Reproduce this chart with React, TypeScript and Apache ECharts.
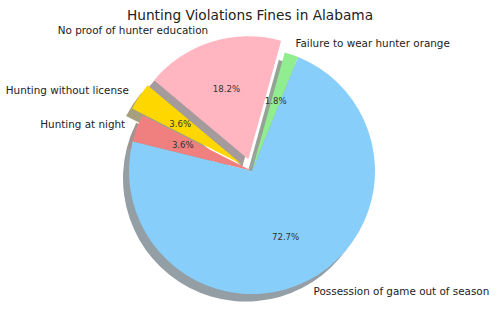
import React, { useEffect, useRef } from "react";
import * as echarts from "echarts";

const TITLE = "Hunting Violations Fines in Alabama";
const categories = [
  "Hunting without license",
  "Hunting at night",
  "Possession of game out of season",
  "Failure to wear hunter orange",
  "No proof of hunter education",
];
const counts = [2, 2, 40, 1, 10];
const exploded = [true, false, false, false, true];
const colors = ["#FFD700", "#F08080", "#87CEFA", "#90EE90", "#FFB6C1"];

const FONT = "DejaVu Sans";
const CX = 252;
const CY = 171;
const R = 123;

function shadowColor(hex: string): string {
  const n = parseInt(hex.slice(1), 16);
  const r = Math.round(((n >> 16) & 255) * 0.3);
  const g = Math.round(((n >> 8) & 255) * 0.3);
  const b = Math.round((n & 255) * 0.3);
  return `rgba(${r},${g},${b},0.5)`;
}

export default function App() {
  const ref = useRef<HTMLDivElement>(null);
  useEffect(() => {
    if (!ref.current) return;
    document.body.style.margin = "0";
    const chart = echarts.init(ref.current, undefined, { renderer: "svg" });
    const total = counts.reduce((a, b) => a + b, 0);
    const common = {
      type: "pie",
      startAngle: 140,
      clockwise: false,
      selectedMode: "multiple",
      selectedOffset: R * 0.1,
      avoidLabelOverlap: false,
      minAngle: 0,
      emphasis: { disabled: true },
      select: { disabled: false },
    };
    chart.setOption({
      animation: false,
      title: {
        text: TITLE,
        left: "center",
        top: 3,
        textStyle: { fontFamily: FONT, fontSize: 13.7, fontWeight: "normal", color: "#222" },
      },
      series: [
        {
          ...common,
          name: "shadow",
          silent: true,
          z: 1,
          center: [CX - 6, CY + 7.5],
          radius: [0, R],
          label: { show: false },
          labelLine: { show: false },
          data: categories.map((c, i) => ({
            name: c,
            value: counts[i],
            selected: exploded[i],
            itemStyle: { color: shadowColor(colors[i]), borderWidth: 0 },
            select: { itemStyle: { color: shadowColor(colors[i]) } },
          })),
        },
        {
          ...common,
          name: "main",
          z: 2,
          center: [CX, CY],
          radius: [0, R],
          label: {
            show: true,
            position: "outside",
            fontFamily: FONT,
            fontSize: 10.4,
            color: "#222",
            distanceToLabelLine: 0,
            formatter: "{b}",
          },
          labelLine: { show: false, length: R * 0.1, length2: 0 },
          data: categories.map((c, i) => ({
            name: c,
            value: counts[i],
            selected: exploded[i],
            itemStyle: { color: colors[i], borderWidth: 0 },
            select: { itemStyle: { color: colors[i] }, label: { color: "#222" } },
          })),
        },
        {
          ...common,
          name: "pct",
          silent: true,
          z: 3,
          center: [CX, CY],
          radius: [R * 1.2 - 6 - R, R],
          label: {
            show: true,
            position: "inner",
            fontFamily: FONT,
            fontSize: 8.6,
            color: "#333",
            rotate: 0,
            formatter: (p: any) => ((p.value / total) * 100).toFixed(1) + "%",
          },
          labelLine: { show: false },
          data: categories.map((c, i) => ({
            name: c,
            value: counts[i],
            selected: exploded[i],
            itemStyle: { color: "rgba(0,0,0,0)", borderWidth: 0 },
            select: { itemStyle: { color: "rgba(0,0,0,0)" }, label: { color: "#333" } },
          })),
        },
      ],
    });
    return () => chart.dispose();
  }, []);
  return <div ref={ref} style={{ width: 500, height: 316 }} />;
}
